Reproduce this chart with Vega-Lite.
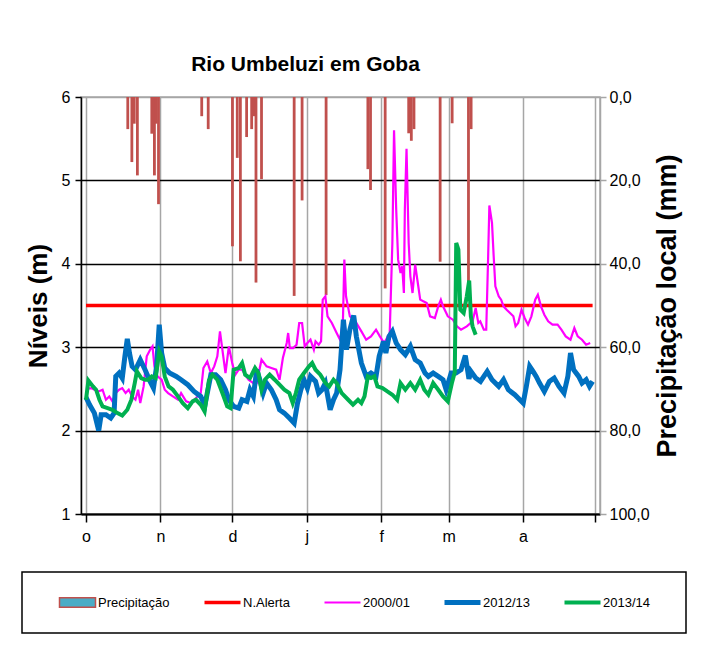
{
  "$schema": "https://vega.github.io/schema/vega-lite/v6.json",
  "width": 519,
  "height": 417,
  "autosize": {"type": "none"},
  "padding": {"left": 81, "top": 97, "right": 102, "bottom": 142},
  "background": "white",
  "title": {"text": "Rio Umbeluzi em Goba", "font": "Liberation Sans", "fontSize": 21, "fontWeight": "bold", "color": "black", "anchor": "middle", "dx": -35, "offset": 14},
  "datasets": {
    "precip": [
      {"d": 17.4, "mm": 7.7},
      {"d": 19.1, "mm": 15.6},
      {"d": 20.1, "mm": 6.4},
      {"d": 21.4, "mm": 18.8},
      {"d": 27.4, "mm": 8.8},
      {"d": 28.5, "mm": 18.8},
      {"d": 29.3, "mm": 6.4},
      {"d": 30.2, "mm": 25.7},
      {"d": 48.2, "mm": 4.6},
      {"d": 50.9, "mm": 7.7},
      {"d": 61.0, "mm": 35.8},
      {"d": 63.0, "mm": 14.6},
      {"d": 64.3, "mm": 39.4},
      {"d": 66.9, "mm": 9.6},
      {"d": 69.0, "mm": 7.7},
      {"d": 69.9, "mm": 4.6},
      {"d": 70.8, "mm": 44.5},
      {"d": 73.1, "mm": 19.7},
      {"d": 86.7, "mm": 47.7},
      {"d": 90.0, "mm": 24.8},
      {"d": 100.0, "mm": 47.5},
      {"d": 117.4, "mm": 17.3},
      {"d": 118.5, "mm": 22.3},
      {"d": 124.6, "mm": 45.9},
      {"d": 134.4, "mm": 8.7},
      {"d": 135.5, "mm": 10.5},
      {"d": 136.6, "mm": 7.7},
      {"d": 147.5, "mm": 39.5},
      {"d": 152.5, "mm": 6.3},
      {"d": 159.3, "mm": 45.9},
      {"d": 160.4, "mm": 7.7}
    ],
    "levels": [
      {"s": "N.Alerta", "d": 0, "v": 3.5},
      {"s": "N.Alerta", "d": 211, "v": 3.5},

      {"s": "2000/01", "d": 0, "v": 2.5},
      {"s": "2000/01", "d": 2.2, "v": 2.51},
      {"s": "2000/01", "d": 3.5, "v": 2.49},
      {"s": "2000/01", "d": 5.3, "v": 2.47},
      {"s": "2000/01", "d": 6.9, "v": 2.49},
      {"s": "2000/01", "d": 8.3, "v": 2.37},
      {"s": "2000/01", "d": 9.7, "v": 2.41},
      {"s": "2000/01", "d": 11, "v": 2.35},
      {"s": "2000/01", "d": 12.4, "v": 2.45},
      {"s": "2000/01", "d": 13.8, "v": 2.49},
      {"s": "2000/01", "d": 15.1, "v": 2.51},
      {"s": "2000/01", "d": 16.5, "v": 2.45},
      {"s": "2000/01", "d": 17.8, "v": 2.49},
      {"s": "2000/01", "d": 19.2, "v": 2.41},
      {"s": "2000/01", "d": 20.6, "v": 2.37},
      {"s": "2000/01", "d": 21.7, "v": 2.49},
      {"s": "2000/01", "d": 22.6, "v": 2.33},
      {"s": "2000/01", "d": 24, "v": 2.53},
      {"s": "2000/01", "d": 25.3, "v": 2.89},
      {"s": "2000/01", "d": 26.7, "v": 2.97},
      {"s": "2000/01", "d": 27.7, "v": 3.01},
      {"s": "2000/01", "d": 28.5, "v": 2.77},
      {"s": "2000/01", "d": 29.8, "v": 2.65},
      {"s": "2000/01", "d": 31.5, "v": 2.61},
      {"s": "2000/01", "d": 32.8, "v": 2.49},
      {"s": "2000/01", "d": 34.2, "v": 2.45},
      {"s": "2000/01", "d": 36.2, "v": 2.41},
      {"s": "2000/01", "d": 38.3, "v": 2.37},
      {"s": "2000/01", "d": 39.6, "v": 2.45},
      {"s": "2000/01", "d": 41.7, "v": 2.35},
      {"s": "2000/01", "d": 43.7, "v": 2.33},
      {"s": "2000/01", "d": 45.8, "v": 2.39},
      {"s": "2000/01", "d": 47.8, "v": 2.45},
      {"s": "2000/01", "d": 48.9, "v": 2.75},
      {"s": "2000/01", "d": 50.5, "v": 2.83},
      {"s": "2000/01", "d": 52, "v": 2.69},
      {"s": "2000/01", "d": 53.4, "v": 2.77},
      {"s": "2000/01", "d": 54.7, "v": 2.89},
      {"s": "2000/01", "d": 55.8, "v": 3.19},
      {"s": "2000/01", "d": 56.8, "v": 2.97},
      {"s": "2000/01", "d": 58.1, "v": 2.69},
      {"s": "2000/01", "d": 59.5, "v": 3.01},
      {"s": "2000/01", "d": 60.9, "v": 2.81},
      {"s": "2000/01", "d": 62.2, "v": 2.67},
      {"s": "2000/01", "d": 63.6, "v": 2.73},
      {"s": "2000/01", "d": 65, "v": 2.73},
      {"s": "2000/01", "d": 66.3, "v": 2.67},
      {"s": "2000/01", "d": 67.7, "v": 2.61},
      {"s": "2000/01", "d": 69.7, "v": 2.57},
      {"s": "2000/01", "d": 71.1, "v": 2.57},
      {"s": "2000/01", "d": 73.1, "v": 2.85},
      {"s": "2000/01", "d": 75.2, "v": 2.77},
      {"s": "2000/01", "d": 77.2, "v": 2.75},
      {"s": "2000/01", "d": 79.2, "v": 2.73},
      {"s": "2000/01", "d": 80.6, "v": 2.61},
      {"s": "2000/01", "d": 82, "v": 2.87},
      {"s": "2000/01", "d": 83.6, "v": 3.05},
      {"s": "2000/01", "d": 84.2, "v": 3.17},
      {"s": "2000/01", "d": 84.9, "v": 2.99},
      {"s": "2000/01", "d": 86.3, "v": 2.99},
      {"s": "2000/01", "d": 87.7, "v": 3.03},
      {"s": "2000/01", "d": 88.8, "v": 3.29},
      {"s": "2000/01", "d": 90, "v": 3.29},
      {"s": "2000/01", "d": 91.1, "v": 3.01},
      {"s": "2000/01", "d": 92.2, "v": 3.05},
      {"s": "2000/01", "d": 93.5, "v": 3.09},
      {"s": "2000/01", "d": 94.9, "v": 2.97},
      {"s": "2000/01", "d": 95.6, "v": 3.07},
      {"s": "2000/01", "d": 96.9, "v": 3.03},
      {"s": "2000/01", "d": 97.9, "v": 3.07},
      {"s": "2000/01", "d": 98.6, "v": 3.57},
      {"s": "2000/01", "d": 99.7, "v": 3.61},
      {"s": "2000/01", "d": 100.6, "v": 3.37},
      {"s": "2000/01", "d": 102.4, "v": 3.29},
      {"s": "2000/01", "d": 104.4, "v": 3.17},
      {"s": "2000/01", "d": 105.8, "v": 3.09},
      {"s": "2000/01", "d": 107, "v": 3.3},
      {"s": "2000/01", "d": 107.6, "v": 4.05},
      {"s": "2000/01", "d": 108.3, "v": 3.61},
      {"s": "2000/01", "d": 109.9, "v": 3.37},
      {"s": "2000/01", "d": 112.6, "v": 3.29},
      {"s": "2000/01", "d": 114.7, "v": 3.19},
      {"s": "2000/01", "d": 116.7, "v": 3.09},
      {"s": "2000/01", "d": 118.7, "v": 3.13},
      {"s": "2000/01", "d": 120.8, "v": 3.21},
      {"s": "2000/01", "d": 122.4, "v": 3.13},
      {"s": "2000/01", "d": 124.2, "v": 3.05},
      {"s": "2000/01", "d": 126.5, "v": 3.17},
      {"s": "2000/01", "d": 127.6, "v": 4.25},
      {"s": "2000/01", "d": 128.3, "v": 5.6},
      {"s": "2000/01", "d": 129.2, "v": 4.65},
      {"s": "2000/01", "d": 130, "v": 4.05},
      {"s": "2000/01", "d": 131, "v": 3.89},
      {"s": "2000/01", "d": 131.7, "v": 3.97},
      {"s": "2000/01", "d": 132.4, "v": 3.65},
      {"s": "2000/01", "d": 132.8, "v": 4.65},
      {"s": "2000/01", "d": 133.5, "v": 5.38},
      {"s": "2000/01", "d": 134.4, "v": 4.25},
      {"s": "2000/01", "d": 135.1, "v": 3.85},
      {"s": "2000/01", "d": 136, "v": 3.65},
      {"s": "2000/01", "d": 137.1, "v": 3.99},
      {"s": "2000/01", "d": 138.2, "v": 3.77},
      {"s": "2000/01", "d": 139.2, "v": 3.57},
      {"s": "2000/01", "d": 140.5, "v": 3.55},
      {"s": "2000/01", "d": 141.9, "v": 3.53},
      {"s": "2000/01", "d": 143.3, "v": 3.37},
      {"s": "2000/01", "d": 145.3, "v": 3.35},
      {"s": "2000/01", "d": 146.7, "v": 3.49},
      {"s": "2000/01", "d": 147.8, "v": 3.57},
      {"s": "2000/01", "d": 148.7, "v": 3.49},
      {"s": "2000/01", "d": 150.7, "v": 3.37},
      {"s": "2000/01", "d": 152.8, "v": 3.33},
      {"s": "2000/01", "d": 154.5, "v": 3.25},
      {"s": "2000/01", "d": 156.2, "v": 3.21},
      {"s": "2000/01", "d": 158.6, "v": 3.25},
      {"s": "2000/01", "d": 161, "v": 3.31},
      {"s": "2000/01", "d": 162.3, "v": 3.47},
      {"s": "2000/01", "d": 163.4, "v": 3.29},
      {"s": "2000/01", "d": 164.2, "v": 3.31},
      {"s": "2000/01", "d": 165.7, "v": 3.21},
      {"s": "2000/01", "d": 166.7, "v": 3.21},
      {"s": "2000/01", "d": 167.5, "v": 4.09},
      {"s": "2000/01", "d": 168, "v": 4.7},
      {"s": "2000/01", "d": 169.1, "v": 4.49},
      {"s": "2000/01", "d": 169.8, "v": 4.09},
      {"s": "2000/01", "d": 170.5, "v": 3.73},
      {"s": "2000/01", "d": 171.9, "v": 3.61},
      {"s": "2000/01", "d": 172.9, "v": 3.57},
      {"s": "2000/01", "d": 173.9, "v": 3.49},
      {"s": "2000/01", "d": 175.2, "v": 3.45},
      {"s": "2000/01", "d": 176.6, "v": 3.41},
      {"s": "2000/01", "d": 178, "v": 3.37},
      {"s": "2000/01", "d": 178.9, "v": 3.25},
      {"s": "2000/01", "d": 180, "v": 3.29},
      {"s": "2000/01", "d": 181.4, "v": 3.45},
      {"s": "2000/01", "d": 182.7, "v": 3.35},
      {"s": "2000/01", "d": 184.1, "v": 3.27},
      {"s": "2000/01", "d": 185.5, "v": 3.37},
      {"s": "2000/01", "d": 187.1, "v": 3.57},
      {"s": "2000/01", "d": 188.2, "v": 3.63},
      {"s": "2000/01", "d": 189.5, "v": 3.49},
      {"s": "2000/01", "d": 190.9, "v": 3.39},
      {"s": "2000/01", "d": 192.5, "v": 3.31},
      {"s": "2000/01", "d": 194.3, "v": 3.27},
      {"s": "2000/01", "d": 196.4, "v": 3.27},
      {"s": "2000/01", "d": 198, "v": 3.21},
      {"s": "2000/01", "d": 199.8, "v": 3.13},
      {"s": "2000/01", "d": 201.8, "v": 3.09},
      {"s": "2000/01", "d": 203.4, "v": 3.23},
      {"s": "2000/01", "d": 204.8, "v": 3.13},
      {"s": "2000/01", "d": 206.6, "v": 3.09},
      {"s": "2000/01", "d": 208.3, "v": 3.03},
      {"s": "2000/01", "d": 210, "v": 3.05},

      {"s": "2012/13", "d": 0, "v": 2.4},
      {"s": "2012/13", "d": 1.5, "v": 2.31},
      {"s": "2012/13", "d": 3.5, "v": 2.21},
      {"s": "2012/13", "d": 5.3, "v": 2.0},
      {"s": "2012/13", "d": 6.3, "v": 2.19},
      {"s": "2012/13", "d": 8.3, "v": 2.19},
      {"s": "2012/13", "d": 10.3, "v": 2.15},
      {"s": "2012/13", "d": 11.7, "v": 2.21},
      {"s": "2012/13", "d": 12.4, "v": 2.65},
      {"s": "2012/13", "d": 13.8, "v": 2.69},
      {"s": "2012/13", "d": 15.1, "v": 2.63},
      {"s": "2012/13", "d": 16.2, "v": 2.89},
      {"s": "2012/13", "d": 17.2, "v": 3.1},
      {"s": "2012/13", "d": 18.1, "v": 2.93},
      {"s": "2012/13", "d": 19.2, "v": 2.77},
      {"s": "2012/13", "d": 20.6, "v": 2.73},
      {"s": "2012/13", "d": 22.6, "v": 2.85},
      {"s": "2012/13", "d": 24.6, "v": 2.73},
      {"s": "2012/13", "d": 26.7, "v": 2.59},
      {"s": "2012/13", "d": 28.1, "v": 2.51},
      {"s": "2012/13", "d": 29.4, "v": 2.77},
      {"s": "2012/13", "d": 30.5, "v": 3.27},
      {"s": "2012/13", "d": 31.5, "v": 2.93},
      {"s": "2012/13", "d": 32.8, "v": 2.75},
      {"s": "2012/13", "d": 34.8, "v": 2.69},
      {"s": "2012/13", "d": 37.6, "v": 2.65},
      {"s": "2012/13", "d": 39.6, "v": 2.61},
      {"s": "2012/13", "d": 42.4, "v": 2.55},
      {"s": "2012/13", "d": 45, "v": 2.47},
      {"s": "2012/13", "d": 47.8, "v": 2.41},
      {"s": "2012/13", "d": 49.5, "v": 2.3},
      {"s": "2012/13", "d": 52, "v": 2.67},
      {"s": "2012/13", "d": 54, "v": 2.67},
      {"s": "2012/13", "d": 56.1, "v": 2.61},
      {"s": "2012/13", "d": 58.1, "v": 2.49},
      {"s": "2012/13", "d": 59.5, "v": 2.37},
      {"s": "2012/13", "d": 61.5, "v": 2.29},
      {"s": "2012/13", "d": 63.6, "v": 2.27},
      {"s": "2012/13", "d": 65, "v": 2.37},
      {"s": "2012/13", "d": 67, "v": 2.35},
      {"s": "2012/13", "d": 68.3, "v": 2.49},
      {"s": "2012/13", "d": 69.7, "v": 2.41},
      {"s": "2012/13", "d": 71.1, "v": 2.73},
      {"s": "2012/13", "d": 72.4, "v": 2.61},
      {"s": "2012/13", "d": 73.8, "v": 2.45},
      {"s": "2012/13", "d": 75.2, "v": 2.57},
      {"s": "2012/13", "d": 77.2, "v": 2.49},
      {"s": "2012/13", "d": 79.2, "v": 2.37},
      {"s": "2012/13", "d": 80.6, "v": 2.25},
      {"s": "2012/13", "d": 82.6, "v": 2.21},
      {"s": "2012/13", "d": 84.7, "v": 2.15},
      {"s": "2012/13", "d": 86.7, "v": 2.09},
      {"s": "2012/13", "d": 88.1, "v": 2.33},
      {"s": "2012/13", "d": 89.5, "v": 2.49},
      {"s": "2012/13", "d": 90.8, "v": 2.61},
      {"s": "2012/13", "d": 92.2, "v": 2.51},
      {"s": "2012/13", "d": 93.5, "v": 2.65},
      {"s": "2012/13", "d": 95.6, "v": 2.59},
      {"s": "2012/13", "d": 96.9, "v": 2.45},
      {"s": "2012/13", "d": 98.3, "v": 2.49},
      {"s": "2012/13", "d": 99.7, "v": 2.57},
      {"s": "2012/13", "d": 101.7, "v": 2.25},
      {"s": "2012/13", "d": 103.1, "v": 2.37},
      {"s": "2012/13", "d": 104.4, "v": 2.45},
      {"s": "2012/13", "d": 105.8, "v": 2.73},
      {"s": "2012/13", "d": 107.2, "v": 3.33},
      {"s": "2012/13", "d": 108.5, "v": 2.97},
      {"s": "2012/13", "d": 109.9, "v": 3.21},
      {"s": "2012/13", "d": 111.5, "v": 3.38},
      {"s": "2012/13", "d": 112.6, "v": 3.13},
      {"s": "2012/13", "d": 114.7, "v": 2.81},
      {"s": "2012/13", "d": 116.7, "v": 2.65},
      {"s": "2012/13", "d": 118.7, "v": 2.69},
      {"s": "2012/13", "d": 120.8, "v": 2.65},
      {"s": "2012/13", "d": 122.1, "v": 2.89},
      {"s": "2012/13", "d": 123.9, "v": 3.07},
      {"s": "2012/13", "d": 124.9, "v": 2.93},
      {"s": "2012/13", "d": 126.2, "v": 3.13},
      {"s": "2012/13", "d": 127.6, "v": 3.19},
      {"s": "2012/13", "d": 129.2, "v": 3.05},
      {"s": "2012/13", "d": 131, "v": 2.97},
      {"s": "2012/13", "d": 133, "v": 2.91},
      {"s": "2012/13", "d": 135.1, "v": 3.01},
      {"s": "2012/13", "d": 137.1, "v": 2.85},
      {"s": "2012/13", "d": 139.2, "v": 2.81},
      {"s": "2012/13", "d": 141.2, "v": 2.69},
      {"s": "2012/13", "d": 142.6, "v": 2.65},
      {"s": "2012/13", "d": 144.6, "v": 2.69},
      {"s": "2012/13", "d": 146.7, "v": 2.65},
      {"s": "2012/13", "d": 148.7, "v": 2.61},
      {"s": "2012/13", "d": 150, "v": 2.49},
      {"s": "2012/13", "d": 152.1, "v": 2.69},
      {"s": "2012/13", "d": 154.1, "v": 2.69},
      {"s": "2012/13", "d": 156.2, "v": 2.73},
      {"s": "2012/13", "d": 158, "v": 2.9},
      {"s": "2012/13", "d": 159.5, "v": 2.62},
      {"s": "2012/13", "d": 160.3, "v": 2.71},
      {"s": "2012/13", "d": 162.3, "v": 2.63},
      {"s": "2012/13", "d": 164.3, "v": 2.59},
      {"s": "2012/13", "d": 167.1, "v": 2.71},
      {"s": "2012/13", "d": 169.1, "v": 2.61},
      {"s": "2012/13", "d": 171.9, "v": 2.53},
      {"s": "2012/13", "d": 173.9, "v": 2.61},
      {"s": "2012/13", "d": 175.9, "v": 2.49},
      {"s": "2012/13", "d": 178.6, "v": 2.43},
      {"s": "2012/13", "d": 180.7, "v": 2.37},
      {"s": "2012/13", "d": 182.1, "v": 2.33},
      {"s": "2012/13", "d": 183.4, "v": 2.53},
      {"s": "2012/13", "d": 184.8, "v": 2.77},
      {"s": "2012/13", "d": 186.2, "v": 2.71},
      {"s": "2012/13", "d": 187.5, "v": 2.65},
      {"s": "2012/13", "d": 188.9, "v": 2.57},
      {"s": "2012/13", "d": 190.9, "v": 2.47},
      {"s": "2012/13", "d": 193, "v": 2.59},
      {"s": "2012/13", "d": 195, "v": 2.63},
      {"s": "2012/13", "d": 197, "v": 2.53},
      {"s": "2012/13", "d": 199.1, "v": 2.45},
      {"s": "2012/13", "d": 200.7, "v": 2.65},
      {"s": "2012/13", "d": 201.8, "v": 2.93},
      {"s": "2012/13", "d": 203.1, "v": 2.73},
      {"s": "2012/13", "d": 205.2, "v": 2.65},
      {"s": "2012/13", "d": 206.6, "v": 2.57},
      {"s": "2012/13", "d": 208.3, "v": 2.61},
      {"s": "2012/13", "d": 209.7, "v": 2.53},
      {"s": "2012/13", "d": 211, "v": 2.59},

      {"s": "2013/14", "d": 0, "v": 2.37},
      {"s": "2013/14", "d": 1, "v": 2.6},
      {"s": "2013/14", "d": 2.9, "v": 2.53},
      {"s": "2013/14", "d": 4.2, "v": 2.49},
      {"s": "2013/14", "d": 5.6, "v": 2.37},
      {"s": "2013/14", "d": 6.9, "v": 2.29},
      {"s": "2013/14", "d": 9, "v": 2.27},
      {"s": "2013/14", "d": 11, "v": 2.25},
      {"s": "2013/14", "d": 13.1, "v": 2.21},
      {"s": "2013/14", "d": 15.1, "v": 2.18},
      {"s": "2013/14", "d": 17.2, "v": 2.25},
      {"s": "2013/14", "d": 18.9, "v": 2.37},
      {"s": "2013/14", "d": 20.3, "v": 2.57},
      {"s": "2013/14", "d": 21.2, "v": 2.71},
      {"s": "2013/14", "d": 23, "v": 2.63},
      {"s": "2013/14", "d": 24.6, "v": 2.61},
      {"s": "2013/14", "d": 26, "v": 2.61},
      {"s": "2013/14", "d": 27.4, "v": 2.65},
      {"s": "2013/14", "d": 29, "v": 2.63},
      {"s": "2013/14", "d": 30.5, "v": 2.95},
      {"s": "2013/14", "d": 31.5, "v": 2.89},
      {"s": "2013/14", "d": 32.8, "v": 2.65},
      {"s": "2013/14", "d": 34.4, "v": 2.53},
      {"s": "2013/14", "d": 36.2, "v": 2.49},
      {"s": "2013/14", "d": 38.3, "v": 2.41},
      {"s": "2013/14", "d": 40.3, "v": 2.33},
      {"s": "2013/14", "d": 42.4, "v": 2.27},
      {"s": "2013/14", "d": 44.4, "v": 2.35},
      {"s": "2013/14", "d": 45.8, "v": 2.37},
      {"s": "2013/14", "d": 47.8, "v": 2.31},
      {"s": "2013/14", "d": 49.4, "v": 2.23},
      {"s": "2013/14", "d": 51.2, "v": 2.6},
      {"s": "2013/14", "d": 52.7, "v": 2.67},
      {"s": "2013/14", "d": 54.7, "v": 2.61},
      {"s": "2013/14", "d": 56.8, "v": 2.45},
      {"s": "2013/14", "d": 58.8, "v": 2.29},
      {"s": "2013/14", "d": 60.2, "v": 2.27},
      {"s": "2013/14", "d": 61.5, "v": 2.73},
      {"s": "2013/14", "d": 63.6, "v": 2.75},
      {"s": "2013/14", "d": 65, "v": 2.81},
      {"s": "2013/14", "d": 66.3, "v": 2.67},
      {"s": "2013/14", "d": 68.3, "v": 2.63},
      {"s": "2013/14", "d": 70.4, "v": 2.75},
      {"s": "2013/14", "d": 71.8, "v": 2.69},
      {"s": "2013/14", "d": 73.1, "v": 2.49},
      {"s": "2013/14", "d": 74.5, "v": 2.61},
      {"s": "2013/14", "d": 76.5, "v": 2.67},
      {"s": "2013/14", "d": 78.6, "v": 2.61},
      {"s": "2013/14", "d": 80.6, "v": 2.55},
      {"s": "2013/14", "d": 82.6, "v": 2.49},
      {"s": "2013/14", "d": 84.7, "v": 2.45},
      {"s": "2013/14", "d": 86.1, "v": 2.33},
      {"s": "2013/14", "d": 87.4, "v": 2.45},
      {"s": "2013/14", "d": 88.8, "v": 2.61},
      {"s": "2013/14", "d": 90.8, "v": 2.69},
      {"s": "2013/14", "d": 92.9, "v": 2.77},
      {"s": "2013/14", "d": 94.2, "v": 2.81},
      {"s": "2013/14", "d": 95.6, "v": 2.73},
      {"s": "2013/14", "d": 97.6, "v": 2.67},
      {"s": "2013/14", "d": 99.7, "v": 2.57},
      {"s": "2013/14", "d": 101.3, "v": 2.53},
      {"s": "2013/14", "d": 103.1, "v": 2.61},
      {"s": "2013/14", "d": 104.4, "v": 2.57},
      {"s": "2013/14", "d": 106.5, "v": 2.45},
      {"s": "2013/14", "d": 109.2, "v": 2.37},
      {"s": "2013/14", "d": 111.2, "v": 2.31},
      {"s": "2013/14", "d": 113.3, "v": 2.37},
      {"s": "2013/14", "d": 114.7, "v": 2.33},
      {"s": "2013/14", "d": 116, "v": 2.41},
      {"s": "2013/14", "d": 117.4, "v": 2.65},
      {"s": "2013/14", "d": 118.7, "v": 2.63},
      {"s": "2013/14", "d": 120.1, "v": 2.65},
      {"s": "2013/14", "d": 121.4, "v": 2.53},
      {"s": "2013/14", "d": 123.5, "v": 2.51},
      {"s": "2013/14", "d": 125.5, "v": 2.47},
      {"s": "2013/14", "d": 127.6, "v": 2.43},
      {"s": "2013/14", "d": 129.6, "v": 2.37},
      {"s": "2013/14", "d": 131, "v": 2.57},
      {"s": "2013/14", "d": 133, "v": 2.49},
      {"s": "2013/14", "d": 135.1, "v": 2.57},
      {"s": "2013/14", "d": 137.1, "v": 2.49},
      {"s": "2013/14", "d": 139.2, "v": 2.61},
      {"s": "2013/14", "d": 140.9, "v": 2.49},
      {"s": "2013/14", "d": 142.6, "v": 2.43},
      {"s": "2013/14", "d": 144.6, "v": 2.57},
      {"s": "2013/14", "d": 146.7, "v": 2.49},
      {"s": "2013/14", "d": 148.7, "v": 2.41},
      {"s": "2013/14", "d": 150.7, "v": 2.35},
      {"s": "2013/14", "d": 152.4, "v": 2.57},
      {"s": "2013/14", "d": 153.6, "v": 2.7},
      {"s": "2013/14", "d": 154.2, "v": 4.25},
      {"s": "2013/14", "d": 155.1, "v": 4.17},
      {"s": "2013/14", "d": 155.9, "v": 3.45},
      {"s": "2013/14", "d": 157.3, "v": 3.41},
      {"s": "2013/14", "d": 158.6, "v": 3.61},
      {"s": "2013/14", "d": 159.6, "v": 3.8},
      {"s": "2013/14", "d": 160.3, "v": 3.37},
      {"s": "2013/14", "d": 161, "v": 3.25},
      {"s": "2013/14", "d": 162.3, "v": 3.15}
    ]
  },
  "encoding": {
    "x": {
      "field": "d", "type": "quantitative",
      "scale": {"domain": [0, 212], "nice": false, "zero": false},
      "axis": {
        "values": [0, 31, 61, 92, 123, 151, 182, 212],
        "labelExpr": "['o','n','d','j','f','m','a',''][indexof([0,31,61,92,123,151,182,212], datum.value)]",
        "title": null, "grid": true, "gridColor": "#A6A6A6", "gridWidth": 1.5,
        "domainColor": "black", "domainWidth": 2, "tickColor": "black", "tickSize": 8, "tickWidth": 1.5,
        "labelFlush": false, "labelAngle": 0, "labelPadding": 6, "labelFont": "Liberation Sans", "labelFontSize": 16, "labelColor": "black"
      }
    }
  },
  "layer": [
    {
      "data": {"name": "precip"},
      "mark": {"type": "bar", "width": 2.8, "color": "#C0504D"},
      "encoding": {
        "y": {
          "field": "mm", "type": "quantitative",
          "scale": {"domain": [0, 100], "reverse": true, "nice": false, "zero": true},
          "axis": {
            "orient": "right", "values": [0, 20, 40, 60, 80, 100],
            "labelExpr": "replace(format(datum.value, '.1f'), '.', ',')",
            "grid": false, "domainColor": "#A6A6A6", "domainWidth": 1.5, "tickColor": "#A6A6A6", "tickSize": 6, "tickWidth": 1.5,
            "labelFlush": false, "labelPadding": 3, "labelFont": "Liberation Sans", "labelFontSize": 16, "labelColor": "black",
            "title": "Precipitação local  (mm)", "titleAngle": 270, "titleFont": "Liberation Sans", "titleFontSize": 27, "titleFontWeight": "bold", "titleColor": "black", "titlePadding": 32
          }
        }
      }
    },
    {
      "data": {"name": "levels"},
      "encoding": {
        "y": {
          "field": "v", "type": "quantitative",
          "scale": {"domain": [1, 6], "nice": false, "zero": false},
          "axis": {
            "orient": "left", "values": [1, 2, 3, 4, 5, 6], "format": "d",
            "grid": true, "gridColor": {"condition": {"test": "datum.value === 6", "value": "#A6A6A6"}, "value": "black"}, "gridWidth": 1.5,
            "domainColor": "black", "domainWidth": 1.5, "tickColor": "black", "tickSize": 6, "tickWidth": 1.5,
            "labelFlush": false, "labelPadding": 5, "labelFont": "Liberation Sans", "labelFontSize": 16, "labelColor": "black",
            "title": "Níveis (m)", "titleFont": "Liberation Sans", "titleFontSize": 26, "titleFontWeight": "bold", "titleColor": "black", "titlePadding": 10
          }
        },
        "color": {
          "field": "s", "type": "nominal",
          "scale": {"domain": ["Precipitação", "N.Alerta", "2000/01", "2012/13", "2013/14"], "range": ["#C0504D", "#FF0000", "#FF00FF", "#0070C0", "#00B050"]},
          "legend": {
            "orient": "none", "legendX": -59, "legendY": 475, "direction": "horizontal", "columns": 5,
            "title": " ", "titleOrient": "right", "titleFontSize": 2, "titlePadding": 26,
            "strokeColor": "black", "fillColor": "white", "padding": 10, "clipHeight": 41,
            "symbolType": "stroke", "symbolSize": 1296, "symbolFillColor": "#4BACC6", "symbolOffset": 25,
            "labelFont": "Liberation Sans", "labelFontSize": 13, "labelColor": "black", "labelOffset": 0, "labelLimit": 300,
            "columnPadding": 7,
            "encode": {
              "legend": {"update": {"strokeWidth": {"value": 1.5}}},
              "symbols": {"update": {
                "shape": {"signal": "datum.value === 'Precipitação' ? 'M-1,-0.26H1V0.26H-1Z' : 'stroke'"},
                "fill": {"signal": "datum.value === 'Precipitação' ? '#4BACC6' : 'transparent'"},
                "strokeWidth": {"signal": "datum.value === 'Precipitação' ? 1.5 : 4"},
                "size": {"value": 1296},
                "opacity": {"value": 1}
              }}
            }
          }
        },
        "strokeWidth": {
          "field": "s", "type": "nominal",
          "scale": {"type": "ordinal", "domain": ["Precipitação", "N.Alerta", "2000/01", "2012/13", "2013/14"], "range": [1.5, 3.5, 2.2, 5, 4]},
          "legend": {
            "orient": "none", "legendX": -59, "legendY": 475, "direction": "horizontal", "columns": 5,
            "title": " ", "titleOrient": "right", "titleFontSize": 2, "titlePadding": 26,
            "strokeColor": "black", "fillColor": "white", "padding": 10, "clipHeight": 41,
            "symbolType": "stroke", "symbolSize": 1296, "symbolFillColor": "#4BACC6", "symbolOffset": 25,
            "labelFont": "Liberation Sans", "labelFontSize": 13, "labelColor": "black", "labelOffset": 0, "labelLimit": 300,
            "columnPadding": 7,
            "encode": {
              "legend": {"update": {"strokeWidth": {"value": 1.5}}},
              "symbols": {"update": {
                "shape": {"signal": "datum.value === 'Precipitação' ? 'M-1,-0.26H1V0.26H-1Z' : 'stroke'"},
                "fill": {"signal": "datum.value === 'Precipitação' ? '#4BACC6' : 'transparent'"},
                "strokeWidth": {"signal": "datum.value === 'Precipitação' ? 1.5 : 4"},
                "size": {"value": 1296},
                "opacity": {"value": 1}
              }}
            }
          }
        }
      },
      "layer": [
        {"transform": [{"filter": "datum.s === 'N.Alerta'"}], "mark": {"type": "line"}},
        {"transform": [{"filter": "datum.s === '2000/01'"}], "mark": {"type": "line"}},
        {"transform": [{"filter": "datum.s === '2012/13'"}], "mark": {"type": "line"}},
        {"transform": [{"filter": "datum.s === '2013/14'"}], "mark": {"type": "line"}}
      ]
    }
  ],
  "resolve": {"scale": {"y": "independent"}},
  "config": {
    "font": "Liberation Sans",
    "view": {"stroke": "#A6A6A6", "strokeWidth": 1.5}
  }
}
